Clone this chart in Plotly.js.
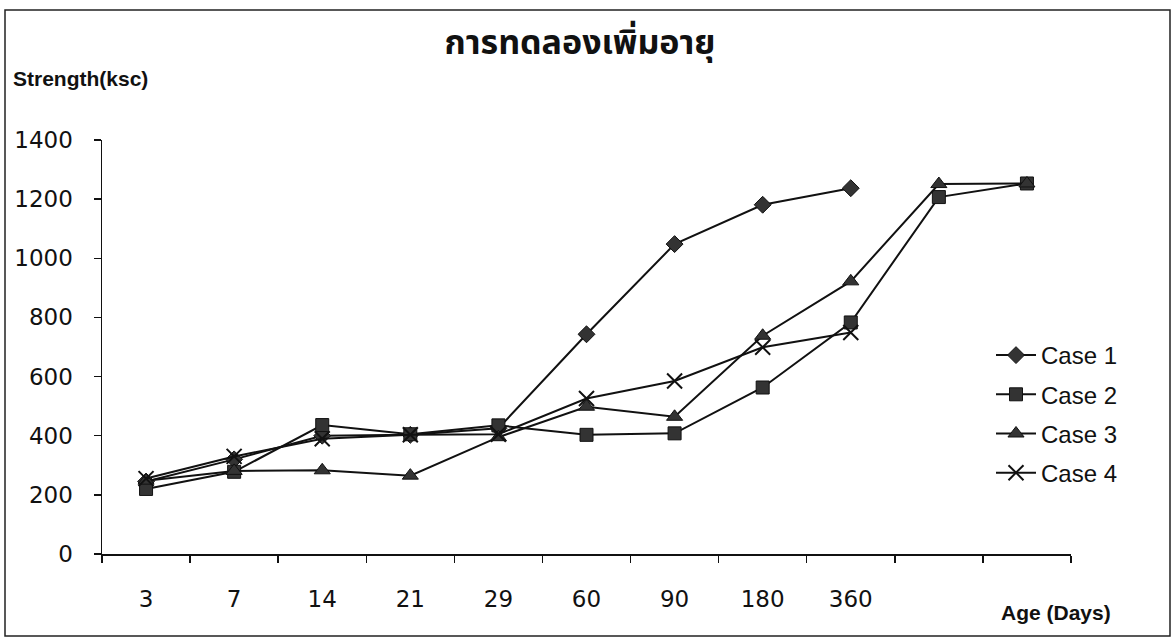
<!DOCTYPE html>
<html>
<head>
<meta charset="utf-8">
<script src="https://cdn.plot.ly/plotly-3.0.1.min.js"></script>
<style>
  html, body { margin: 0; padding: 0; background: #ffffff; }
  #chart { width: 1175px; height: 639px; }
</style>
</head>
<body>
<div id="chart"></div>
<script>
// ---- data ----
const titleText = "การทดลองเพิ่มอายุ";
const ageLabels = ["3", "7", "14", "21", "29", "60", "90", "180", "360", "", ""];
const caseNames = ["Case 1", "Case 2", "Case 3", "Case 4"];
const case1 = [245, 320, 400, 403, 425, 743, 1048, 1181, 1237, null, null];
const case2 = [220, 278, 436, 405, 435, 403, 408, 563, 783, 1207, 1253];
const case3 = [248, 281, 283, 265, 395, 498, 464, 738, 922, 1251, 1253];
const case4 = [255, 330, 390, 403, 405, 526, 585, 699, 749, null, null];
const yTicks = [0, 200, 400, 600, 800, 1000, 1200, 1400];

const xIdx = ageLabels.map((_, i) => i);
const labelIdx = xIdx.filter(i => ageLabels[i] !== "");

const ink = "#111111";
const markerFill = "#333333";

function mkTrace(name, ys, symbol, size, lineW) {
  return {
    type: "scatter",
    mode: "lines+markers",
    name: name,
    legendgroup: name,
    x: xIdx,
    y: ys,
    connectgaps: false,
    line: { color: ink, width: 2 },
    marker: { symbol: symbol, size: size, color: markerFill,
              line: { color: ink, width: lineW } },
    hoverinfo: "x+y+name"
  };
}

const traces = [
  mkTrace(caseNames[0], case1, "diamond", 13, 1),
  mkTrace(caseNames[1], case2, "square", 13, 1),
  mkTrace(caseNames[2], case3, "triangle-up", 14, 1),
  mkTrace(caseNames[3], case4, "x-thin", 15, 2)
];

// plot area: left 102, right 1071, top 140, bottom 554
const L = 102, R = 104, T = 140, B = 85;
const W = 1175 - L - R, H = 639 - T - B;
function px(x) { return (x - L) / W; }
function py(y) { return (639 - B - y) / H; }

const layout = {
  width: 1175,
  height: 639,
  margin: { l: L, r: R, t: T, b: B, pad: 0 },
  paper_bgcolor: "#ffffff",
  plot_bgcolor: "#ffffff",
  font: { family: "Liberation Sans, Arial, sans-serif", color: ink },
  title: {
    text: "<b>" + titleText + "</b>",
    x: px(580), xref: "paper", xanchor: "center",
    y: 1 - 42 / 639, yanchor: "middle",
    font: { family: "Noto Sans Thai, Tahoma, Noto Sans, DejaVu Sans, sans-serif", size: 34, color: ink }
  },
  showlegend: true,
  legend: {
    x: px(991), xanchor: "left",
    y: py(333), yanchor: "top",
    bgcolor: "rgba(0,0,0,0)",
    borderwidth: 0,
    font: { family: "Liberation Sans, Arial, sans-serif", size: 24, color: ink },
    tracegroupgap: 5,
    itemwidth: 40
  },
  xaxis: {
    type: "linear",
    range: [-0.5, ageLabels.length - 0.5],
    tickmode: "array",
    tickvals: labelIdx,
    ticktext: labelIdx.map(i => ageLabels[i]),
    ticks: "",
    ticklabelstandoff: 24,
    tickfont: { family: "DejaVu Sans, Verdana, sans-serif", size: 23, color: ink },
    showline: true, linecolor: ink, linewidth: 1.5,
    showgrid: false, zeroline: false,
    minor: { tickmode: "linear", tick0: -0.5, dtick: 1, ticks: "outside",
             ticklen: 7, tickwidth: 1.5, tickcolor: ink, showgrid: false },
    fixedrange: true
  },
  yaxis: {
    range: [0, 1400],
    tickmode: "array",
    tickvals: yTicks,
    ticktext: yTicks.map(String),
    ticks: "outside", ticklen: 7, tickwidth: 1.5, tickcolor: ink,
    ticklabelstandoff: 16,
    tickfont: { family: "DejaVu Sans, Verdana, sans-serif", size: 23, color: ink },
    showline: true, linecolor: ink, linewidth: 1.5,
    showgrid: false, zeroline: false,
    fixedrange: true
  },
  annotations: [
    { text: "<b>Strength(ksc)</b>", xref: "paper", yref: "paper",
      x: px(11), y: py(78), xanchor: "left", yanchor: "middle", showarrow: false,
      font: { family: "Liberation Sans, Arial, sans-serif", size: 21, color: ink } },
    { text: "<b>Age (Days)</b>", xref: "paper", yref: "paper",
      x: px(999), y: py(612), xanchor: "left", yanchor: "middle", showarrow: false,
      font: { family: "Liberation Sans, Arial, sans-serif", size: 21, color: ink } }
  ],
  shapes: [
    { type: "rect", xref: "paper", yref: "paper",
      x0: px(5), x1: px(1170), y0: py(10), y1: py(636),
      line: { color: "#222222", width: 1.5 }, fillcolor: "rgba(0,0,0,0)", layer: "below" }
  ]
};

Plotly.newPlot("chart", traces, layout, { displayModeBar: false, staticPlot: true });
</script>
</body>
</html>
